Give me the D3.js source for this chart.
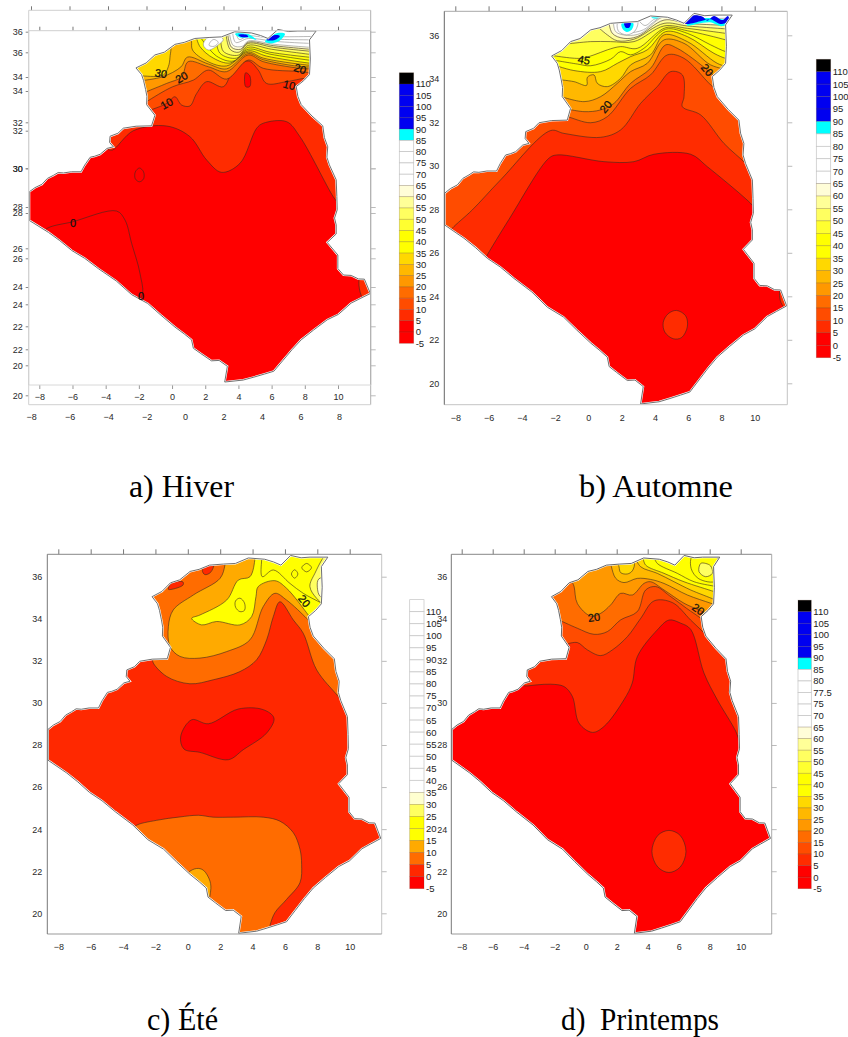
<!DOCTYPE html>
<html>
<head>
<meta charset="utf-8">
<script src="https://cdn.jsdelivr.net/npm/d3@7"></script>
<style>
  body { margin: 0; background: #fff; }
  svg { display: block; }
  text { font-family: "Liberation Sans", Arial, sans-serif; }
</style>
</head>
<body>
<svg id="drawing_region" width="848" height="1037"></svg>
<script>
// frontier of the country, lon / lat, clockwise from the west tip
const border = [[-8.64,28.74],[-8.3,28.95],[-7.88,29.12],[-7.55,29.42],[-7.18,29.58],[-6.9,29.72],[-6.58,29.7],[-6.1,29.76],[-5.52,29.76],[-5.3,30.1],[-4.97,30.5],[-4.7,30.55],[-4.37,30.65],[-3.95,30.95],[-3.57,31.03],[-3.8,31.25],[-3.77,31.57],[-3.3,31.72],[-2.97,31.98],[-2.2,32.08],[-1.27,32.1],[-1.07,32.64],[-1.57,33.18],[-1.55,33.6],[-1.63,33.95],[-1.75,34.4],[-1.87,34.71],[-2.21,35.05],[-1.6,35.3],[-1.07,35.71],[-0.5,35.85],[0.14,36.25],[0.7,36.35],[1.34,36.55],[2.2,36.6],[2.94,36.63],[3.74,36.89],[4.75,36.83],[5.3,36.7],[5.75,36.55],[6.35,37.01],[7.0,36.9],[7.55,36.93],[8.65,36.93],[8.25,36.48],[8.3,35.5],[8.25,34.71],[7.9,34.4],[7.45,34.1],[7.55,33.6],[7.75,33.18],[8.4,32.6],[9.05,32.1],[9.15,31.5],[9.35,31.03],[9.3,30.5],[9.45,30.11],[9.86,29.35],[9.9,28.5],[9.92,27.82],[9.76,27.4],[9.86,27.05],[9.86,26.59],[9.32,26.16],[9.96,25.52],[9.96,24.83],[10.3,24.5],[10.76,24.48],[11.2,24.3],[11.56,24.29],[11.92,23.56],[11.3,23.3],[10.76,23.07],[10.0,22.5],[9.32,22.22],[8.5,21.7],[7.75,21.2],[7.2,20.7],[6.65,20.15],[6.1,19.6],[5.55,19.46],[4.9,19.3],[4.25,19.15],[3.14,19.05],[3.3,19.85],[2.8,20.15],[2.34,20.13],[1.7,20.5],[1.25,20.77],[1.14,21.2],[0.7,21.5],[0.14,21.85],[-0.7,22.45],[-1.5,23.05],[-2.47,23.5],[-3.4,24.2],[-4.47,24.82],[-5.3,25.35],[-6.08,25.75],[-6.8,26.25],[-7.48,26.67],[-8.64,27.28]];

const legendLevels = [110,105,100,95,90,85,80,75,70,65,60,55,50,45,40,35,30,25,20,15,10,5,0,-5];
const springLevels = [110,105,100,95,90,85,80,77.5,75,70,65,60,55,50,45,40,35,30,25,20,15,10,5,0,-5];
const rampColors = ['#000000','#0000f0','#0000f0','#0000f0','#0000f0','#00ffff','#ffffff','#ffffff','#ffffff','#ffffff','#fffdd8','#ffff98','#ffff60','#ffff30','#ffff00','#ffff00','#ffd800','#ffb800','#ff9800','#ff6c00','#ff4c00','#ff2c00','#ff0000','#ff0000'];
const springColors = ['#000000','#0000f0','#0000f0','#0000f0','#0000f0','#00ffff','#ffffff','#ffffff','#ffffff','#ffffff','#ffffff','#fffdd8','#ffff98','#ffff60','#ffff30','#ffff00','#ffff00','#ffd800','#ffb800','#ff9800','#ff6c00','#ff4c00','#ff2c00','#ff0000','#ff0000'];
const summerColors = ['#ffffff','#ffffff','#ffffff','#ffffff','#ffffff','#ffffff','#ffffff','#ffffff','#ffffff','#ffffff','#ffffff','#ffffff','#ffffff','#ffffff','#ffffff','#ffffff','#ffffd0','#ffff60','#ffff00','#ffff00','#ffaa00','#ff6c00','#ff2800','#ff0000'];

const xTicks = [-8,-6,-4,-2,0,2,4,6,8,10];
const yTicks = [20,22,24,26,28,30,32,34,36];
const winterOuterX = [-8,-6,-4,-2,0,2,4,6,8];

// open contours run west to east, everything north of them takes the level colour
const winterFronts = [
  [5, [[-3.9,30.9],[-3.62,30.87],[-2.37,31.85],[-0.36,32.09],[1.04,31.55],[2.05,30.36],[2.95,29.73],[4.06,30.19],[5.06,31.97],[5.46,32.23],[6.87,32.31],[7.67,31.55],[9.68,28.49],[9.95,28.2]]],
  [10, [[-1.8,32.7],[-1.57,32.82],[-0.36,33.24],[0.14,33.58],[0.54,33.16],[1.04,33.11],[1.45,33.75],[2.05,34.35],[3.05,34.09],[3.66,34.94],[4.56,35.4],[5.16,34.94],[5.66,34.26],[6.87,34.35],[7.98,34.52],[8.3,34.5]]],
  [15, [[-1.8,33.2],[-1.57,33.33],[0,34.09],[1.25,34.43],[2.15,34.94],[3.25,34.48],[4.56,35.45],[5.46,35.03],[7.77,34.86],[8.3,34.8]]],
  [20, [[-1.8,33.75],[-1.57,33.84],[-0.36,34.26],[0.54,34.6],[0.94,35.37],[2.15,35.11],[3.25,34.86],[4.56,35.71],[5.46,35.37],[7.68,35.03],[8.4,35.0]]],
  [25, [[-1.9,34.4],[-0.6,34.6],[0.5,35.1],[0.9,35.6],[2.15,35.25],[3.25,35.0],[4.56,35.78],[5.46,35.47],[7.68,35.12],[8.4,35.1]]],
  [30, [[1.1,36.7],[1.14,36.39],[1.2,35.96],[2.05,35.4],[3.25,35.15],[4.56,35.85],[5.46,35.55],[8.07,35.2],[8.5,35.18]]],
  [35, [[1.4,36.7],[1.65,36.13],[2.45,35.55],[3.46,35.3],[4.56,35.92],[5.67,35.65],[8.18,35.3],[8.5,35.28]]],
  [40, [[1.6,36.7],[2.65,35.65],[3.66,35.4],[4.56,36.0],[5.87,35.75],[8.18,35.45],[8.5,35.42]]],
  [45, [[2.6,36.7],[2.85,35.8],[3.86,35.55],[4.56,36.1],[5.87,35.85],[8.18,35.6],[8.5,35.58]]],
  [50, [[2.9,36.8],[3.05,35.9],[3.96,35.7],[4.56,36.2],[5.97,36.0],[8.18,35.75],[8.5,35.72]]],
  [55, [[3.2,36.9],[3.46,36.0],[4.0,35.85],[4.56,36.3],[6.07,36.1],[8.28,35.9],[8.6,35.88]]],
  [60, [[3.3,36.9],[3.55,36.1],[4.1,36.0],[4.56,36.36],[6.1,36.18],[8.28,36.0],[8.6,35.98]]],
  [65, [[3.4,37],[3.65,36.2],[4.2,36.15],[4.56,36.42],[6.17,36.25],[8.28,36.1],[8.7,36.08]]],
  [70, [[3.6,37],[3.8,36.35],[4.56,36.55],[6.2,36.4],[8.3,36.3],[8.7,36.3]]],
  [75, [[3.8,37],[4.0,36.5],[4.56,36.68],[6.2,36.52],[8.3,36.48],[8.8,36.48]]],
  [80, [[4.0,37.1],[4.2,36.65],[4.56,36.8],[6.2,36.65],[8.3,36.65],[8.8,36.65]]]
];
const winterIslands = [
  [-5, [[-7.7,26.79],[-5.99,27.22],[-3.38,27.76],[-2.87,27.3],[-2.47,26.11],[-1.97,24.59],[-1.87,23.4],[-3,22.8],[-8,26]]],
  [-5, [[-2,29.95],[-1.75,29.75],[-1.75,29.4],[-2,29.25],[-2.25,29.4],[-2.25,29.75]]],
  [5, [[11.3,24.4],[11.55,23.2],[12.5,23.2],[12.5,24.4]]],
  [0, [[4.4,34.8],[4.65,34.65],[4.65,34.1],[4.4,34.1]]],
  [30, [[-1.87,34.64],[-0.56,34.69],[-0.26,35.11],[-0.16,35.59],[-0.2,36.3],[-3,36.3],[-3,34.7]]],
  [65, [[2.05,36.55],[1.85,36.22],[2.15,35.96],[2.75,36.22],[3.05,36.5],[2.65,36.72]]],
  [70, [[2.3,36.4],[2.2,36.2],[2.5,36.15],[2.75,36.35],[2.5,36.5]]],
  [85, [[3.76,36.78],[4.56,36.78],[5.06,36.47],[4.56,36.6],[4.06,36.6]]],
  [90, [[3.96,36.74],[4.46,36.74],[4.56,36.64],[4.1,36.64]]],
  [85, [[5.57,36.39],[6.27,36.81],[6.77,36.78],[6.37,36.39],[5.87,36.3]]],
  [90, [[5.67,36.47],[6.17,36.72],[6.47,36.67],[6.17,36.47]]]
];
const winterLabels = [['30',-0.7,34.77,10],['20',0.54,34.57,-30],['10',-0.36,33.24,-30],['10',7.03,34.18,15],['20',7.68,35.0,20],['0',-6,27.13,0],['0',-1.91,23.45,0]];

const autumnFronts = [
  [5, [[-6.3,25.6],[-6.08,25.9],[-4.77,27.54],[-2.37,30.35],[-1.87,30.5],[0.94,30.19],[2.74,30.19],[3.94,30.53],[6.15,30.53],[7.15,29.96],[9.65,28.35],[10.2,27.9]]],
  [10, [[-8.4,26.9],[-8.18,27.13],[-6.98,27.97],[-5.28,29.35],[-2.27,31.62],[-1.47,31.49],[0.74,31.31],[1.94,31.65],[3.14,32.87],[4.14,33.64],[4.95,34.33],[5.65,34.18],[5.75,33.18],[5.65,32.72],[6.75,32.34],[8.15,31.03],[9.45,30.11],[9.9,29.7]]],
  [15, [[-1.6,32.3],[-1.27,32.26],[0.14,31.98],[1.14,32.26],[2.54,33.56],[3.74,34.18],[4.75,35.1],[5.75,34.94],[7.35,33.72],[8,33.3]]],
  [20, [[-1.8,32.7],[-0.26,32.49],[0.74,32.57],[1.54,32.87],[2.54,33.79],[3.74,34.48],[4.65,35.56],[5.35,35.4],[7.15,34.41],[7.75,34.0]]],
  [25, [[-1.9,33.25],[-0.26,32.95],[0.74,33.18],[1.74,33.79],[2.54,34.33],[3.54,34.71],[4.55,35.79],[5.75,35.63],[7.35,34.64],[8.5,34.4]]],
  [30, [[-2,33.98],[-0.87,33.87],[-0.1,33.7],[-0.06,34.07],[0.34,34.18],[0.54,33.79],[1.14,33.64],[1.94,34.02],[2.54,34.64],[3.74,35.1],[4.55,36.02],[5.95,35.71],[7.75,34.71],[8.6,34.5]]],
  [35, [[-2.3,34.7],[-0.87,34.38],[0.74,34.33],[1.74,34.71],[2.54,35.02],[3.54,35.33],[4.65,36.17],[5.95,35.94],[7.55,35.17],[8.25,34.94],[8.6,34.9]]],
  [40, [[-2.4,34.9],[-0.67,34.68],[0.14,34.6],[1.34,34.9],[1.94,35.25],[2.54,35.1],[3.34,35.4],[4.65,36.28],[5.95,36.09],[7.35,35.56],[8.25,35.25],[8.6,35.2]]],
  [45, [[-2.4,35.1],[-0.47,34.94],[0.34,35.1],[1.14,35.33],[1.94,35.48],[2.94,35.4],[4.65,36.35],[5.95,36.21],[8.25,35.79],[8.6,35.7]]],
  [50, [[-1.3,35.6],[0.14,35.71],[1.34,35.71],[2.74,35.71],[4.55,36.43],[5.95,36.32],[8.25,36.09],[8.6,36.05]]],
  [55, [[0.4,36.5],[1.14,36.02],[1.74,35.75],[2.74,35.82],[4.55,36.55],[5.95,36.43],[8.6,36.28]]],
  [60, [[1.2,36.8],[1.44,36.09],[2.14,35.86],[2.94,35.94],[4.55,36.7],[5.95,36.55],[8.6,36.45]]],
  [65, [[1.5,36.8],[1.64,36.17],[2.34,36],[3.14,36.09],[4.55,36.86],[5.95,36.67],[8.7,36.65]]],
  [70, [[1.9,36.8],[2,36.25],[2.4,36.12],[3.3,36.25],[3.9,36.6],[4.6,36.95],[6,36.78],[8.8,36.8]]],
  [75, [[2.9,36.8],[3.4,36.45],[4,36.75],[5,36.85],[6,36.9],[8.8,36.95]]]
];
const autumnIslands = [
  [5, [[5.3,23.35],[5.85,23.1],[5.95,22.6],[5.6,22.1],[5.1,22.05],[4.6,22.35],[4.5,22.8],[4.8,23.2]]],
  [5, [[11.55,24.3],[11.7,23.55],[12.5,23.4],[12.5,24.4]]],
  [80, [[1.8,36.65],[1.8,36.2],[2.3,36.02],[2.8,36.2],[2.95,36.65]]],
  [85, [[2.0,36.55],[2.7,36.55],[2.6,36.25],[2.3,36.15],[2.05,36.3]]],
  [90, [[2.15,36.56],[2.55,36.56],[2.45,36.35],[2.25,36.35]]],
  [85, [[3.7,36.95],[4.5,36.95],[4.2,36.8],[3.9,36.78]]],
  [85, [[5.9,36.45],[7.3,36.6],[8.0,36.42],[8.5,36.6],[7.95,36.75],[6.5,36.75]]],
  [90, [[5.65,36.58],[6.15,36.89],[6.85,36.86],[7.15,36.67],[7.55,36.89],[8.05,36.7],[8.39,36.89],[8.45,36.67],[7.95,36.52],[7.35,36.74],[6.85,36.67],[5.95,36.52]]]
];
const autumnLabels = [['45',-0.27,34.87,10],['20',1.04,32.72,-50],['20',7.15,34.41,50]];

const summerFronts = [
  [5, [[-2.1,32.2],[-2.17,31.97],[-1.31,31.26],[0.13,30.91],[1.57,31.1],[3.22,31.49],[4.25,32.05],[4.87,33.0],[5.28,34.1],[5.69,34.81],[6.52,33.94],[7.13,33.31],[7.96,31.57],[9.29,30.31],[9.6,30]]],
  [10, [[2.3,36.9],[2.29,36.55],[1.99,35.92],[0.34,35.13],[-0.9,34.42],[-1.2,33.63],[-1.1,32.68],[-0.48,32.21],[0.75,32.13],[2.4,32.44],[3.84,33.0],[4.66,34.58],[5.38,35.21],[6.1,34.89],[7.34,34.02],[7.6,33.8]]],
  [15, [[4.15,37.1],[4.15,36.87],[3.84,36.0],[3.12,35.84],[2.4,34.89],[0.75,34.18],[0.24,34.02],[0.85,33.71],[1.78,33.87],[3.22,33.71],[3.94,34.1],[4.21,35.05],[4.35,35.53],[5.38,35.81],[6.1,35.45],[7.44,34.18],[7.7,33.9]]],
  [20, [[4.6,37.1],[4.56,36.79],[4.6,36],[5.28,36.32],[6.31,35.68],[7.13,35.21],[8.27,34.74],[8.6,34.6]]]
];
const summerIslands = [
  [-5, [[-0.44,28.41],[0.24,29.2],[1.27,29.01],[3.12,29.71],[4.66,29.68],[5.32,29.28],[4.87,28.57],[3.43,27.78],[2.5,27.3],[0.75,27.65],[-0.24,27.81]]],
  [5, [[-3.26,24.14],[-1.93,24.42],[-0.49,24.58],[0.65,24.66],[1.57,24.57],[2.81,24.57],[4.66,24.57],[5.69,24.38],[6.52,23.83],[6.93,23.04],[7.03,22.33],[6.93,21.46],[6.1,20.66],[5.38,20.03],[5.07,19.4],[4.9,18.6],[2,18.6],[-1,21],[-3.6,23.7]]],
  [10, [[0.03,21.93],[0.54,22.13],[0.96,22.05],[1.37,21.53],[1.41,21.06],[1.2,20.6],[-0.2,21.4]]],
  [20, [[3.22,34.98],[3.5,34.75],[3.5,34.4],[3.22,34.34],[2.95,34.55],[2.95,34.85]]],
  [20, [[6.6,36.33],[6.8,36.13],[6.6,35.93],[6.4,36.13]]],
  [20, [[7.34,36.63],[7.64,36.43],[7.34,36.23],[7.04,36.43]]],
  [25, [[8.6,37.1],[7.85,36.16],[7.54,35.53],[7.96,34.97],[8.4,34.7],[9,34.7],[9,37.1]]],
  [30, [[8.1,35.9],[8.0,35.5],[8.2,35.05],[9,35.1],[9,35.9]]],
  [0, [[0.9,36.3],[1.2,36.6],[1.6,36.6],[1.4,36.2],[1.05,36.1]]],
  [0, [[-1.2,35.4],[-0.3,35.6],[-0.3,35.75],[-1,35.7]]]
];
const summerLabels = [['20',7.2,34.85,50]];

const springFronts = [
  [5, [[-4.1,30.85],[-3.87,30.81],[-3.12,30.86],[-2.26,30.89],[-1.4,30.78],[-0.86,30.31],[-0.43,29.04],[0.43,28.6],[1.18,28.88],[2.47,30.15],[3.0,30.94],[3.33,32.2],[4.62,33.47],[5.38,33.94],[6.13,33.79],[6.77,33.5],[7.63,31.42],[8.49,30.15],[9.68,28.65],[9.9,28.2]]],
  [10, [[-1.2,32.8],[-0.54,32.87],[0.11,32.52],[0.97,32.25],[1.72,32.52],[2.69,33.15],[3.55,34.02],[4.41,34.85],[5.59,34.77],[6.77,33.94],[7.85,33.15],[9.03,32.05],[9.4,31.8]]],
  [15, [[-1.8,33.97],[-0.54,33.55],[0.54,33.26],[1.4,33.39],[2.26,33.95],[3.33,34.34],[3.87,35.37],[4.52,35.53],[5.4,35.1],[6.5,34.5],[7.42,34.02],[7.7,33.8]]],
  [20, [[-0.9,35.8],[-0.75,35.53],[-0.54,34.73],[0.32,34.13],[0.97,34.26],[1.61,34.66],[2.26,35.21],[3.01,35.13],[3.76,35.68],[4.19,35.76],[5.05,35.37],[6.34,34.74],[7.31,34.42],[8,34.2]]],
  [25, [[1.6,36.7],[1.66,36.47],[1.94,35.92],[2.47,35.72],[3.33,35.92],[4.19,35.87],[5.05,35.68],[6.56,35.13],[8.06,34.74],[8.6,34.6]]],
  [30, [[3.2,36.9],[3.55,36.47],[4.62,36.16],[5.7,35.76],[6.77,35.37],[8.28,34.92],[8.6,34.8]]],
  [35, [[3.7,36.9],[3.87,36.55],[5.05,36.16],[6.34,35.76],[8.28,35.29],[8.6,35.2]]],
  [40, [[4.4,36.95],[4.62,36.63],[5.91,36.16],[6.99,35.76],[8.28,35.55],[8.6,35.5]]]
];
const springIslands = [
  [5, [[5.37,23.94],[6.1,23.7],[6.47,22.94],[6.1,22.2],[5.37,21.94],[4.65,22.2],[4.27,22.94],[4.65,23.7]]],
  [30, [[2.1,36.7],[2.15,36.47],[2.26,36.19],[2.69,36.13],[3.01,36.28],[3.12,36.66]]],
  [40, [[6.9,37.0],[6.8,36.4],[7.3,35.9],[8.4,35.8],[8.4,37.0]]],
  [50, [[7.42,36.63],[7.31,36.24],[7.74,36],[8.17,36.16],[8.06,36.51],[7.74,36.63]]]
];
const springLabels = [['20',0.54,34.07,-8],['20',7.27,34.45,35]];

const svg = d3.select('#drawing_region');

// one map panel: axes, filled contours, frontier, legend, caption
function drawPanel(cfg) {
  const g = svg.append('g');
  const color = d3.scaleOrdinal(cfg.levels, cfg.colors);
  const line = d3.line().x(d => cfg.x(d[0])).y(d => cfg.y(d[1]));
  const smooth = d3.line().x(d => cfg.x(d[0])).y(d => cfg.y(d[1])).curve(d3.curveCatmullRom);
  const smoothClosed = d3.line().x(d => cfg.x(d[0])).y(d => cfg.y(d[1])).curve(d3.curveCatmullRomClosed);
  const strokeOf = level => level >= 85 ? 'none' : (level >= 65 ? '#8a8a8a' : '#3a2a20');

  g.append('clipPath').attr('id', 'land-' + cfg.id)
    .append('path').attr('d', line(border) + 'Z');

  const land = g.append('g').attr('clip-path', `url(#land-${cfg.id})`);
  land.append('path').attr('d', line(border) + 'Z').attr('fill', color(cfg.base));

  cfg.fronts.forEach(([level, pts]) => {
    const first = pts[0], last = pts[pts.length - 1];
    const close = 'L' + cfg.x(14) + ',' + cfg.y(last[1]) + 'L' + cfg.x(14) + ',' + cfg.y(38)
      + 'L' + cfg.x(-11) + ',' + cfg.y(38) + 'L' + cfg.x(-11) + ',' + cfg.y(first[1]) + 'Z';
    land.append('path').attr('d', smooth(pts) + close).attr('fill', color(level));
    land.append('path').attr('d', smooth(pts)).attr('fill', 'none')
      .attr('stroke', strokeOf(level)).attr('stroke-width', 0.6);
  });

  cfg.islands.forEach(([level, pts]) => {
    land.append('path').attr('d', smoothClosed(pts)).attr('fill', color(level))
      .attr('stroke', strokeOf(level)).attr('stroke-width', 0.6);
  });

  // white gap then grey frontier line
  g.append('path').attr('d', line(border) + 'Z').attr('fill', 'none').attr('stroke', '#fff').attr('stroke-width', 2);
  g.append('path').attr('d', line(border) + 'Z').attr('fill', 'none').attr('stroke', cfg.borderColor).attr('stroke-width', 1);

  cfg.labels.forEach(([txt, lon, lat, angle]) => {
    g.append('text').text(txt)
      .attr('transform', `translate(${cfg.x(lon)},${cfg.y(lat)}) rotate(${angle})`)
      .attr('text-anchor', 'middle').attr('dy', '0.36em')
      .attr('font-size', 11).attr('fill', '#111')
      .attr('stroke', '#111').attr('stroke-width', 0.25);
  });

  cfg.axes.forEach(a => drawAxes(g, a));

  // legend, each box sits above its label
  const ly = d3.scalePoint().domain(cfg.levels).range(cfg.legend.y);
  const step = ly.step();
  const leg = g.append('g');
  leg.selectAll('rect').data(cfg.levels).enter().append('rect')
    .attr('x', cfg.legend.x[0]).attr('width', cfg.legend.x[1] - cfg.legend.x[0])
    .attr('y', d => ly(d) - step).attr('height', step)
    .attr('fill', d => color(d))
    .attr('stroke', d => color(d) === '#ffffff' ? '#c4c4c4' : 'rgba(90,60,40,0.3)')
    .attr('stroke-width', 0.7);
  leg.selectAll('text').data(cfg.levels).enter().append('text')
    .attr('x', cfg.legend.x[1] + 2).attr('y', d => ly(d)).attr('dy', '0.36em')
    .attr('font-size', 9.5).attr('fill', '#222')
    .text(d => d);

  g.append('text').text(cfg.caption[0])
    .attr('x', cfg.caption[1]).attr('y', cfg.caption[2])
    .attr('textLength', cfg.caption[3]).attr('lengthAdjust', 'spacingAndGlyphs')
    .style('font-family', '"Liberation Serif", "Times New Roman", serif')
    .style('white-space', 'pre')
    .attr('font-size', 30.5).attr('fill', '#000');
}

function drawAxes(g, a) {
  const box = g.append('g');
  const [xLeft, xRight] = a.frame.x;
  const [yTop, yBottom] = a.frame.y;
  const side = (axis, tx, ty, col) => {
    const s = box.append('g').attr('transform', `translate(${tx},${ty})`).call(axis);
    s.select('.domain').remove();
    s.selectAll('line').attr('stroke', col);
    s.selectAll('text').attr('font-size', 9).attr('fill', '#2a2a2a')
      .style('font-family', '"Liberation Sans", Arial, sans-serif');
  };
  side(d3.axisTop(a.xs).tickValues(a.xTicks).tickSize(a.tickTop).tickFormat(''), 0, yTop, '#777');
  side(d3.axisBottom(a.xs).tickValues(a.xTicks).tickSize(a.tickBottom).tickPadding(a.padBottom), 0, yBottom, '#999');
  side(d3.axisLeft(a.ys).tickValues(yTicks).tickSize(a.tickLeft).tickPadding(a.padLeft), xLeft, 0, '#888');
  side(d3.axisRight(a.ys).tickValues(yTicks).tickSize(5).tickFormat(''), xRight, 0, '#bbb');
  box.append('line').attr('x1', xLeft).attr('x2', xRight).attr('y1', yTop).attr('y2', yTop).attr('stroke', a.colors[0]);
  box.append('line').attr('x1', xRight).attr('x2', xRight).attr('y1', yTop).attr('y2', yBottom).attr('stroke', a.colors[1]);
  box.append('line').attr('x1', xLeft).attr('x2', xRight).attr('y1', yBottom).attr('y2', yBottom).attr('stroke', a.colors[2]);
  box.append('line').attr('x1', xLeft).attr('x2', xLeft).attr('y1', yTop).attr('y2', yBottom).attr('stroke', a.colors[3]);
}

// winter panel carries two overlaid sets of axes
const winterMapY = d3.scaleLinear().domain([19, 36.93]).range([383, 31]);
const winterMapX = d3.scaleLinear().domain([-8.64, 11.94]).range([29.3, 370.7]);
const winterInnerX = d3.scaleLinear().domain([-8, 10]).range([39.3, 338]);
const winterOuterXs = d3.scaleLinear().domain([-8, 8]).range([31, 339]);
const winterInnerY = d3.scaleLinear().domain(yTicks).range([365.3, 326.3, 287, 248.3, 207, 168.3, 122.3, 77, 31.7]);
const winterOuterY = d3.scaleLinear().domain(yTicks).range([395.3, 349.3, 304.3, 258.3, 213, 168.3, 130.7, 91, 52.3]);

const autumnX = d3.scaleLinear().domain([-8, 10]).range([455.3, 754.7]);
const autumnY = d3.scaleLinear().domain([20, 36]).range([383.3, 35.3]);
const summerX = d3.scaleLinear().domain([-8, 10]).range([58.3, 349.7]);
const springX = d3.scaleLinear().domain([-8, 10]).range([461.7, 740.7]);
const lowerY = d3.scaleLinear().domain([20, 36]).range([913.3, 576.7]);

drawPanel({
  id: 'a', x: winterMapX, y: winterMapY, base: 0, levels: legendLevels, colors: rampColors,
  fronts: winterFronts, islands: winterIslands, labels: winterLabels, borderColor: '#707070',
  axes: [
    { xs: winterOuterXs, ys: winterOuterY, xTicks: winterOuterX, frame: { x: [28.7, 370.7], y: [10.3, 404.7] }, tickTop: 4, tickBottom: 0, tickLeft: 3, padBottom: 9, padLeft: 3, colors: ['#d0d0d0', '#b0b0b0', '#d0d0d0', '#d0d0d0'] },
    { xs: winterInnerX, ys: winterInnerY, xTicks: xTicks, frame: { x: [28.7, 370.7], y: [30.7, 385] }, tickTop: 4, tickBottom: 4, tickLeft: 3, padBottom: 5, padLeft: 3, colors: ['#cfcfcf', '#b0b0b0', '#d8d8d8', '#d0d0d0'] }
  ],
  legend: { x: [399.3, 413.7], y: [84, 343.3] }, caption: ['a) Hiver', 129, 497, 105]
});
drawPanel({
  id: 'b', x: autumnX, y: autumnY, base: 0, levels: legendLevels, colors: rampColors,
  fronts: autumnFronts, islands: autumnIslands, labels: autumnLabels, borderColor: '#707070',
  axes: [{ xs: autumnX, ys: autumnY, xTicks: xTicks, frame: { x: [444.3, 787.3], y: [11.3, 404.7] }, tickTop: 5, tickBottom: 0, tickLeft: 0, padBottom: 10, padLeft: 5, colors: ['#a8a8a8', '#c4c4c4', '#c4c4c4', '#666'] }],
  legend: { x: [816.3, 830.7], y: [71.7, 357.7] }, caption: ['b) Automne', 579, 497, 154]
});
drawPanel({
  id: 'c', x: summerX, y: lowerY, base: 0, levels: legendLevels, colors: summerColors,
  fronts: summerFronts, islands: summerIslands, labels: summerLabels, borderColor: '#707070',
  axes: [{ xs: summerX, ys: lowerY, xTicks: xTicks, frame: { x: [47.3, 381.7], y: [554.3, 934] }, tickTop: 5, tickBottom: 0, tickLeft: 0, padBottom: 10, padLeft: 5, colors: ['#888', '#c4c4c4', '#999', '#777'] }],
  legend: { x: [409.7, 424], y: [611.7, 888.7] }, caption: ['c) Été', 147, 1030, 71]
});
drawPanel({
  id: 'd', x: springX, y: lowerY, base: 0, levels: springLevels, colors: springColors,
  fronts: springFronts, islands: springIslands, labels: springLabels, borderColor: '#666',
  axes: [{ xs: springX, ys: lowerY, xTicks: xTicks, frame: { x: [451.3, 771.7], y: [554.3, 934] }, tickTop: 5, tickBottom: 0, tickLeft: 0, padBottom: 10, padLeft: 4, colors: ['#888', '#aaa', '#999', '#777'] }],
  legend: { x: [798, 811.3], y: [611.7, 888.7] }, caption: ['d)  Printemps', 561, 1030, 158]
});
</script>
</body>
</html>
